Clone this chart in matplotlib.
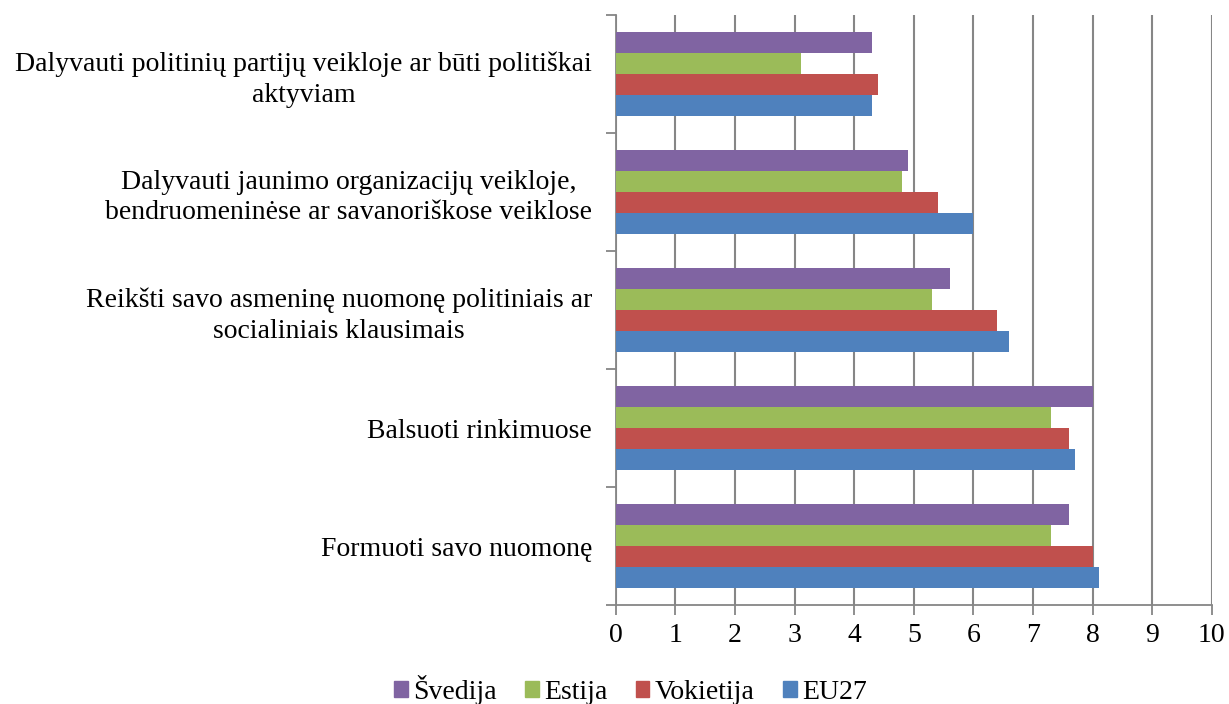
import numpy as np
import matplotlib.pyplot as plt
from matplotlib.patches import Patch

# kategorijos (nuo apačios į viršų)
categories = [
    "Formuoti savo nuomonę",
    "Balsuoti rinkimuose",
    "Reikšti savo asmeninę nuomonę politiniais ar\nsocialiniais klausimais",
    "Dalyvauti jaunimo organizacijų veikloje,\nbendruomeninėse ar savanoriškose veiklose",
    "Dalyvauti politinių partijų veikloje ar būti politiškai\naktyviam",
]

eu27 = [8.1, 7.7, 6.6, 6.0, 4.3]
vokietija = [8.0, 7.6, 6.4, 5.4, 4.4]
estija = [7.3, 7.3, 5.3, 4.8, 3.1]
svedija = [7.6, 8.0, 5.6, 4.9, 4.3]

series_names = ["EU27", "Vokietija", "Estija", "Švedija"]
series_vals = [eu27, vokietija, estija, svedija]
colors = ["#4F81BD", "#C0504D", "#9BBB59", "#8064A2"]

plt.rcParams['font.family'] = ['Liberation Serif', 'DejaVu Serif']

fig = plt.figure(figsize=(12.29, 7.04), dpi=100)
ax = fig.add_axes([0.501, 0.1406, 0.485, 0.838])

y = np.arange(len(categories))
h = 0.179
for i, (name, vals) in enumerate(zip(series_names, series_vals)):
    ax.barh(y + (i - 1.5) * h, vals, height=h, color=colors[i], label=name, zorder=3)

ax.set_xlim(0, 10)
ax.set_ylim(-0.5, len(categories) - 0.5)
ax.set_xticks(range(0, 11))
ax.set_yticks(y)
ax.set_yticklabels(categories, ha='right', multialignment='center', fontsize=20, linespacing=1.28)
ax.set_yticks(np.arange(-0.5, len(categories), 1), minor=True)
ax.tick_params(axis='y', which='major', length=0, pad=17)
ax.tick_params(axis='y', which='minor', length=7, width=1.3, color='#868686', direction='out')
ax.tick_params(axis='x', length=7, width=1.3, color='#868686', labelsize=20, pad=6)

ax.grid(axis='x', color='#868686', linewidth=1.5, zorder=0)
for s in ['top', 'right']:
    ax.spines[s].set_visible(False)
for s in ['left', 'bottom']:
    ax.spines[s].set_color('#868686')
    ax.spines[s].set_linewidth(1.3)

handles = [Patch(color=colors[i], label=series_names[i]) for i in [3, 2, 1, 0]]
fig.legend(handles=handles, loc='center', bbox_to_anchor=(0.513, 0.02), ncol=4,
           frameon=False, fontsize=20, handlelength=0.5, handleheight=0.5,
           handletextpad=0.2, columnspacing=1.0)

plt.savefig("out.png", dpi=100)
